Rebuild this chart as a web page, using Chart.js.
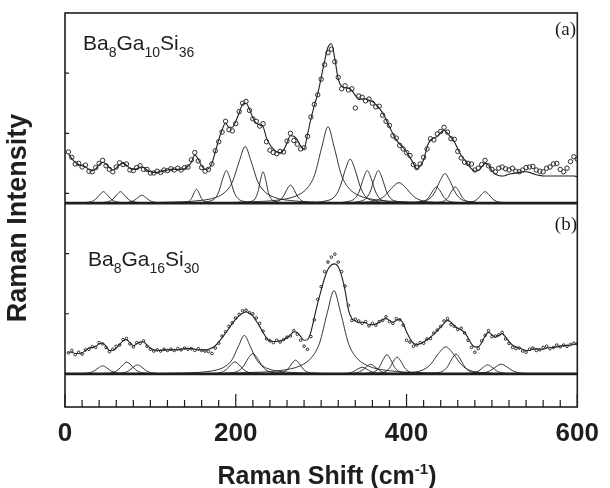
<!DOCTYPE html>
<html><head><meta charset="utf-8">
<script src="https://cdn.jsdelivr.net/npm/chart.js@4.4.1/dist/chart.umd.min.js"></script>
<style>html,body{margin:0;padding:0;background:#fff}canvas{display:block}</style>
</head><body>
<canvas id="c" width="610" height="488"></canvas>
<script>
// Raman shift sample positions (cm-1)
const shift = [4,8,12,16,20,24,28,32,36,40,44,48,52,56,60,64,68,72,76,80,84,88,92,96,100,104,108,112,116,120,124,128,132,136,140,144,148,152,156,160,164,168,172,176,180,184,188,192,196,200,204,208,212,216,220,224,228,232,236,240,244,248,252,256,260,264,268,272,276,280,284,288,292,296,300,304,308,312,316,320,324,328,332,336,340,344,348,352,356,360,364,368,372,376,380,384,388,392,396,400,404,408,412,416,420,424,428,432,436,440,444,448,452,456,460,464,468,472,476,480,484,488,492,496,500,504,508,512,516,520,524,528,532,536,540,544,548,552,556,560,564,568,572,576,580,584,588,592,596,600];

// (a) Ba8Ga10Si36 : measured points and total fit (intensity above its own baseline)
const dataA = [8.5,7.6,6.5,6.6,6.0,6.3,5.3,5.2,5.9,6.6, 7.1,6.2,5.6,5.2,6.0,6.7,6.4,6.5,5.5,5.4, 5.9,6.2,5.6,5.6,5.0,5.0,5.3,5.1,5.5,5.4, 5.7,5.5,5.8,5.5,5.9,6.0,7.2,8.4,7.0,5.9, 5.3,5.6,6.5,8.7,10.2,11.8,13.6,12.2,12.0,13.2, 15.2,16.6,16.9,15.4,14.0,13.6,12.8,13.2,10.2,8.8, 8.4,8.2,8.6,8.5,10.3,11.6,10.4,9.8,9.0,9.2, 11.1,14.3,16.4,18.0,20.6,23.0,25.0,25.6,23.5,20.9, 19.0,19.5,18.8,19.0,15.8,17.8,17.6,17.0,17.3,16.6, 16.0,16.1,14.6,13.6,12.9,11.2,10.8,9.6,9.0,8.4, 7.9,6.4,5.9,6.5,7.6,9.0,10.7,10.5,11.5,11.9, 12.6,11.8,10.7,10.6,8.6,7.5,6.8,6.6,6.5,5.5, 5.8,6.4,7.1,6.2,5.6,5.2,5.8,6.0,5.7,5.5, 5.8,5.3,5.2,5.5,5.9,6.0,6.1,5.5,5.3,5.2, 5.8,6.0,6.5,6.6,5.6,5.2,5.8,6.9,7.7,7.3];
const fitA = [8.2,7.4,6.8,6.4,6.2,6.0,5.6,5.4,5.7,6.4, 6.8,6.5,5.9,5.5,5.8,6.4,6.6,6.3,5.8,5.6, 5.7,6.0,5.9,5.5,5.2,5.1,5.1,5.2,5.4,5.5, 5.6,5.6,5.6,5.6,5.7,6.1,6.8,8.0,7.3,6.2, 5.6,5.7,6.6,8.5,10.5,12.2,13.3,12.6,12.6,13.6, 15.0,16.4,16.6,15.6,14.2,13.3,13.0,12.7,10.8,9.7, 9.0,8.5,8.4,8.8,10.0,11.2,11.1,10.5,9.5,9.0, 11.4,14.0,16.2,18.2,20.8,23.6,25.9,26.5,24.0,20.6, 19.4,19.2,19.1,18.7,17.9,17.2,17.3,17.3,17.1,16.9, 16.4,15.8,15.0,13.9,12.7,11.5,10.5,9.8,9.2,8.5, 7.6,6.6,5.7,6.2,7.2,9.3,10.5,10.8,11.1,11.7, 12.1,11.6,10.9,10.2,9.0,7.9,7.2,6.4,5.7,5.3, 5.4,6.0,6.6,6.3,5.4,4.8,4.6,4.5,4.6,4.8, 4.9,5.0,5.1,5.2,5.2,5.1,4.9,4.7,4.6,4.5, 4.5,4.5,4.5,4.5,4.5,4.5,4.5,4.5,4.5,4.4];

// (b) Ba8Ga16Si30
const dataB = [3.5,3.9,3.2,3.6,3.3,4.0,4.1,4.5,4.4,5.2, 5.0,4.4,3.7,4.1,4.6,4.8,5.7,5.9,5.0,4.5, 5.2,5.1,5.5,4.6,4.1,3.8,4.0,3.8,4.1,3.9, 4.1,3.9,4.2,4.0,4.3,4.1,4.2,3.9,4.2,3.9, 3.8,3.7,3.4,4.3,5.1,6.3,7.0,7.9,8.5,9.3, 9.9,10.5,10.6,10.2,10.0,9.3,8.4,7.1,5.8,5.5, 5.2,5.6,5.3,5.7,6.1,6.3,7.2,6.6,5.6,4.6, 4.1,6.2,9.0,12.4,14.5,17.0,18.6,19.4,19.9,18.6, 17.0,14.6,11.4,8.9,9.1,8.8,8.4,8.7,8.0,8.4, 8.1,8.7,8.9,9.5,8.7,8.4,9.2,9.0,8.1,5.6, 5.3,4.6,4.8,5.2,5.1,5.8,5.9,6.8,7.3,7.9, 8.8,9.2,8.2,7.9,7.4,7.6,6.8,5.6,4.4,3.6, 4.2,5.5,6.4,7.2,6.2,6.3,6.5,6.9,5.8,5.1, 4.4,4.2,4.3,3.8,3.6,4.1,4.3,3.9,4.0,4.4, 4.6,4.2,4.4,4.8,4.5,4.8,4.6,4.9,5.1,5.0];
const fitB = [3.6,3.6,3.4,3.4,3.5,3.9,4.3,4.4,4.6,5.0, 5.1,4.6,3.9,3.9,4.3,4.9,5.5,5.7,5.2,4.7, 5.0,5.3,5.3,4.8,4.3,4.0,3.9,3.9,4.0,4.0, 4.0,4.0,4.0,4.1,4.2,4.2,4.2,4.1,4.0,4.0, 4.0,4.1,4.3,4.7,5.3,6.0,6.8,7.6,8.4,9.1, 9.7,10.1,10.3,10.1,9.6,8.8,7.9,6.9,6.0,5.5, 5.4,5.4,5.5,5.7,6.0,6.5,7.0,6.9,6.2,5.6, 5.7,7.0,9.4,11.8,13.9,15.9,17.4,18.1,18.3,17.8, 16.3,13.9,10.6,9.2,8.8,8.5,8.6,8.5,8.2,8.2, 8.3,8.6,9.0,9.2,8.9,8.6,8.9,9.1,8.4,7.0, 5.9,5.1,4.9,5.0,5.3,5.7,6.1,6.6,7.2,7.8, 8.4,8.9,8.6,8.0,7.6,7.3,6.9,6.0,5.0,4.5, 4.5,5.2,6.3,6.9,6.5,6.1,6.4,6.7,6.1,5.4, 4.8,4.5,4.3,4.1,3.9,3.9,4.1,4.2,4.1,4.1, 4.3,4.4,4.4,4.5,4.6,4.7,4.7,4.8,4.9,5.0];

// fitted component peaks, [shift, intensity]
const componentsA = [
 [[10,0],[24,0.1],[31,0.25],[36,0.65],[41,1.44],[45,1.9],[49,1.44],[54,0.65],[59,0.25],[66,0.1],[80,0]],
 [[30,0],[44,0.1],[51,0.25],[56,0.65],[61,1.44],[65,1.9],[69,1.44],[74,0.65],[79,0.25],[86,0.1],[100,0]],
 [[55,0],[69,0.07],[76,0.17],[81,0.44],[86,0.99],[90,1.3],[94,0.99],[99,0.44],[104,0.17],[111,0.07],[125,0]],
 [[131,0],[140.5,0.12],[145,0.3],[148.2,0.78],[151.3,1.75],[154,2.3],[156.7,1.75],[159.8,0.78],[163,0.3],[167.5,0.12],[177,0]],
 [[154,0],[168,0.27],[175,0.7],[180,1.84],[184.8,4.1],[189,5.4],[193.2,4.1],[198,1.84],[203,0.7],[210,0.27],[224,0]],
 [[80,0],[119,0.14],[153.5,0.36],[176.5,0.94],[188,1.88],[196,3.48],[204,6.91],[211,9.4],[218,6.91],[226,3.48],[234,1.88],[245.5,0.94],[268.5,0.36],[303,0.14],[340,0]],
 [[208,0],[217.6,0.26],[222.4,0.68],[225.8,1.77],[229.1,3.95],[232,5.2],[234.9,3.95],[238.2,1.77],[241.6,0.68],[246.4,0.26],[256,0]],
 [[230.5,0],[243.9,0.15],[250.6,0.39],[255.3,1.02],[260,2.28],[264,3.0],[268,2.28],[272.7,1.02],[277.4,0.39],[284.1,0.15],[297.5,0]],
 [[180,0],[212,0.19],[248,0.48],[272,1.27],[284,2.54],[292.4,4.7],[300.8,9.33],[308,12.7],[315.2,9.33],[323.6,4.7],[332,2.54],[344,1.27],[368,0.48],[404,0.19],[440,0]],
 [[286.5,0],[305.5,0.37],[315,0.95],[321.6,2.48],[328.3,5.55],[334,7.3],[339.7,5.55],[346.4,2.48],[353,0.95],[362.5,0.37],[381.5,0]],
 [[316.5,0],[331.5,0.27],[339,0.7],[344.3,1.84],[349.5,4.1],[354,5.4],[358.5,4.1],[363.8,1.84],[369,0.7],[376.5,0.27],[391.5,0]],
 [[329.5,0],[344.5,0.27],[352,0.7],[357.3,1.84],[362.5,4.1],[367,5.4],[371.5,4.1],[376.8,1.84],[382,0.7],[389.5,0.27],[404.5,0]],
 [[326,0],[352,0.17],[365,0.44],[374.1,1.16],[383.2,2.58],[391,3.4],[398.8,2.58],[407.9,1.16],[417,0.44],[430,0.17],[456,0]],
 [[400,0],[414,0.14],[421,0.35],[425.9,0.92],[430.8,2.05],[435,2.7],[439.2,2.05],[444.1,0.92],[449,0.35],[456,0.14],[470,0]],
 [[397.5,0],[416.5,0.25],[426,0.64],[432.6,1.67],[439.3,3.72],[445,4.9],[450.7,3.72],[457.4,1.67],[464,0.64],[473.5,0.25],[492.5,0]],
 [[424.5,0],[437.5,0.14],[444,0.35],[448.6,0.92],[453.1,2.05],[457,2.7],[460.9,2.05],[465.5,0.92],[470,0.35],[476.5,0.14],[489.5,0]],
 [[457,0],[471,0.1],[478,0.25],[482.9,0.65],[487.8,1.44],[492,1.9],[496.2,1.44],[501.1,0.65],[506,0.25],[513,0.1],[527,0]]
];
const componentsB = [
 [[4,0],[20,0.07],[28,0.17],[33.6,0.45],[39.2,1.01],[44,1.33],[48.8,1.01],[54.4,0.45],[60,0.17],[68,0.07],[84,0]],
 [[32.5,0],[48.5,0.1],[56.5,0.25],[62.1,0.66],[67.7,1.48],[72.5,1.95],[77.3,1.48],[82.9,0.66],[88.5,0.25],[96.5,0.1],[112.5,0]],
 [[45,0],[61,0.08],[69,0.2],[74.6,0.51],[80.2,1.14],[85,1.5],[89.8,1.14],[95.4,0.51],[101,0.2],[109,0.08],[125,0]],
 [[159,0],[175,0.1],[183,0.26],[188.6,0.68],[194.2,1.52],[199,2.0],[203.8,1.52],[209.4,0.68],[215,0.26],[223,0.1],[239,0]],
 [[90,0],[122,0.1],[155,0.24],[177,0.64],[188,1.28],[195.7,2.37],[203.4,4.7],[210,6.4],[216.6,4.7],[224.3,2.37],[232,1.28],[243,0.64],[265,0.24],[298,0.1],[330,0]],
 [[175,0],[193,0.17],[202,0.44],[208.3,1.16],[214.6,2.58],[220,3.4],[225.4,2.58],[231.7,1.16],[238,0.44],[247,0.17],[265,0]],
 [[235,0],[249,0.12],[256,0.3],[260.9,0.78],[265.8,1.75],[270,2.3],[274.2,1.75],[279.1,0.78],[284,0.3],[291,0.12],[305,0]],
 [[170,0],[211,0.21],[250,0.53],[276,1.39],[289,2.77],[298.1,5.12],[307.2,10.18],[315,13.85],[322.8,10.18],[331.9,5.12],[341,2.77],[354,1.39],[380,0.53],[419,0.21],[460,0]],
 [[308,0],[324,0.06],[332,0.14],[337.6,0.37],[343.2,0.84],[348,1.1],[352.8,0.84],[358.4,0.37],[364,0.14],[372,0.06],[388,0]],
 [[318,0],[334,0.08],[342,0.21],[347.6,0.54],[353.2,1.22],[358,1.6],[362.8,1.22],[368.4,0.54],[374,0.21],[382,0.08],[398,0]],
 [[342,0],[356,0.16],[363,0.42],[367.9,1.09],[372.8,2.43],[377,3.2],[381.2,2.43],[386.1,1.09],[391,0.42],[398,0.16],[412,0]],
 [[354,0],[368,0.14],[375,0.36],[379.9,0.95],[384.8,2.13],[389,2.8],[393.2,2.13],[398.1,0.95],[403,0.36],[410,0.14],[424,0]],
 [[376,0],[404,0.23],[418,0.59],[427.8,1.53],[437.6,3.42],[446,4.5],[454.4,3.42],[464.2,1.53],[474,0.59],[488,0.23],[516,0]],
 [[418,0],[434,0.17],[442,0.43],[447.6,1.12],[453.2,2.5],[458,3.3],[462.8,2.5],[468.4,1.12],[474,0.43],[482,0.17],[498,0]],
 [[455,0],[471,0.08],[479,0.2],[484.6,0.51],[490.2,1.14],[495,1.5],[499.8,1.14],[505.4,0.51],[511,0.2],[519,0.08],[535,0]],
 [[461,0],[481,0.08],[491,0.21],[498,0.54],[505,1.22],[511,1.6],[517,1.22],[524,0.54],[531,0.21],[541,0.08],[561,0]]
];
const baseline = [[0,0],[600,0]];
const yTicks = [0,10,20,30,40,50];
const labelA = [['Ba','8'],['Ga','10'],['Si','36']];
const labelB = [['Ba','8'],['Ga','16'],['Si','30']];
const panelTags = ['(a)','(b)'];
const xTitle = ['Raman Shift (cm','-1',')'];
const yTitle = 'Raman Intensity';

const INK = '#1e1e1e';
const pts = (xs, ys) => xs.map((x, i) => ({x: x, y: ys[i]}));
const pairs = arr => arr.map(p => ({x: p[0], y: p[1]}));
const datasets = [];
function addPanel(axis, data, fit, comps, ptR, ptW) {
  datasets.push({data: pts(shift, data), yAxisID: axis, showLine: false, pointRadius: ptR, pointBorderWidth: ptW,
    pointBorderColor: '#2a2a2a', pointBackgroundColor: 'rgba(0,0,0,0)', pointHoverRadius: ptR});
  datasets.push({data: pts(shift, fit), yAxisID: axis, borderColor: INK, borderWidth: 1.1, pointRadius: 0, cubicInterpolationMode: 'monotone'});
  comps.forEach(c => datasets.push({data: pairs(c), yAxisID: axis, borderColor: INK, borderWidth: 0.9, pointRadius: 0, cubicInterpolationMode: 'monotone'}));
  datasets.push({data: pairs(baseline), yAxisID: axis, borderColor: INK, borderWidth: 2.6, pointRadius: 0});
}
addPanel('ya', dataA, fitA, componentsA, 2.2, 1.0);
addPanel('y', dataB, fitB, componentsB, 1.3, 1.0);

const SANS = '"Liberation Sans", Arial, Helvetica, sans-serif';

function drawFormula(ctx, parts, x, y) {
  for (const [el, n] of parts) {
    ctx.font = '21px ' + SANS;
    ctx.fillText(el, x, y); x += ctx.measureText(el).width;
    ctx.font = '14px ' + SANS;
    ctx.fillText(n, x, y + 7); x += ctx.measureText(n).width;
  }
}

const decor = {
  id: 'decor',
  afterDraw(chart) {
    const {ctx, chartArea: a, scales} = chart;
    const xs = scales.x, yb = scales.y;
    ctx.save();
    ctx.strokeStyle = INK; ctx.fillStyle = INK;
    ctx.lineWidth = 1.6;
    ctx.strokeRect(a.left, a.top, a.right - a.left, a.bottom - a.top);
    ctx.lineWidth = 1.2;
    ctx.beginPath();
    xs.ticks.forEach(t => {
      const px = xs.getPixelForValue(t.value);
      const len = t.value % 200 === 0 ? 13 : 7;
      ctx.moveTo(px, a.bottom); ctx.lineTo(px, a.bottom - len);
    });
    yTicks.forEach(v => { const py = yb.getPixelForValue(v); ctx.moveTo(a.left, py); ctx.lineTo(a.left + 4, py); });
    ctx.stroke();
    // formulas
    ctx.textBaseline = 'alphabetic'; ctx.textAlign = 'left';
    drawFormula(ctx, labelA, 83, 50);
    drawFormula(ctx, labelB, 88, 266);
    // panel tags
    ctx.font = '19px "Liberation Serif", "Times New Roman", serif';
    ctx.textAlign = 'right';
    ctx.fillText(panelTags[0], 576, 35);
    ctx.fillText(panelTags[1], 577, 230);
    // x title with superscript
    ctx.textAlign = 'left';
    const big = 'bold 25px ' + SANS, small = 'bold 15px ' + SANS;
    ctx.font = big; const w0 = ctx.measureText(xTitle[0]).width, w2 = ctx.measureText(xTitle[2]).width;
    ctx.font = small; const w1 = ctx.measureText(xTitle[1]).width;
    let x0 = 327 - (w0 + w1 + w2) / 2; const yb0 = 484;
    ctx.font = big; ctx.fillText(xTitle[0], x0, yb0); x0 += w0;
    ctx.font = small; ctx.fillText(xTitle[1], x0, yb0 - 10); x0 += w1;
    ctx.font = big; ctx.fillText(xTitle[2], x0, yb0);
    // y title
    ctx.translate(19, 218); ctx.rotate(-Math.PI / 2);
    ctx.textAlign = 'center'; ctx.textBaseline = 'middle';
    ctx.font = 'bold 27px ' + SANS;
    ctx.fillText(yTitle, 0, 0);
    ctx.restore();
  }
};

new Chart(document.getElementById('c'), {
  type: 'line',
  data: {datasets: datasets},
  options: {
    responsive: false, animation: false, devicePixelRatio: 1,
    layout: {padding: {left: 0, right: 23, top: 13, bottom: 0}},
    plugins: {legend: {display: false}, tooltip: {enabled: false}},
    scales: {
      x: {type: 'linear', min: 0, max: 600,
        grid: {display: false, drawTicks: false}, border: {display: false},
        ticks: {stepSize: 20, autoSkip: false, maxRotation: 0, padding: 11, color: INK,
          font: {family: SANS, weight: 'bold', size: 26},
          callback: v => (v % 200 === 0 ? String(v) : '')},
        afterFit: s => { s.height = 81; }},
      y: {type: 'linear', position: 'left', min: -5.5, max: 60,
        grid: {display: false, drawTicks: false}, border: {display: false},
        ticks: {display: false}, afterFit: s => { s.width = 65; }},
      ya: {type: 'linear', position: 'left', display: false, min: -33.9, max: 31.6}
    }
  },
  plugins: [decor]
});
</script>
</body></html>
